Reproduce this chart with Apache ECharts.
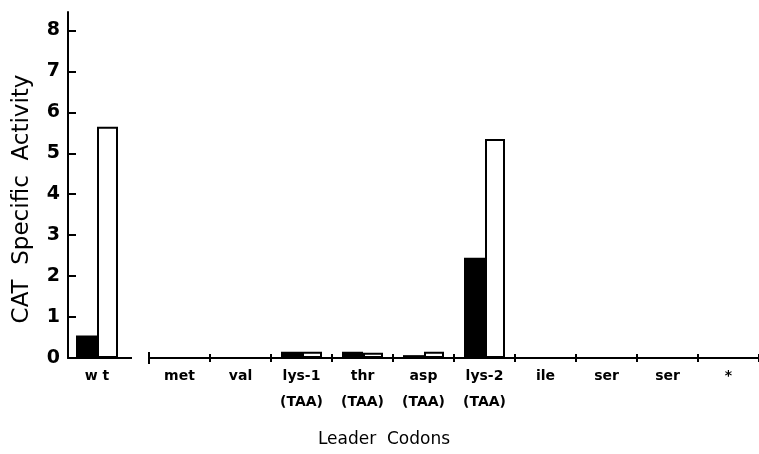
<!DOCTYPE html>
<html><head><meta charset="utf-8">
<script src="https://cdn.jsdelivr.net/npm/echarts@6/dist/echarts.min.js"></script>
<style>html,body{margin:0;padding:0;background:#fff}#c{width:759px;height:454px}</style>
</head><body><div id="c"></div>
<script>
const wtCategory = ['w t'];
const wtBlack = [0.55];
const wtWhite = [5.65];
const categories = ['met','val','lys-1\n(TAA)','thr\n(TAA)','asp\n(TAA)','lys-2\n(TAA)','ile','ser','ser','*'];
const blackValues = [0, 0, 0.15, 0.15, 0.07, 2.45, 0, 0, 0, 0];
const whiteValues = [0, 0, 0.15, 0.13, 0.15, 5.35, 0, 0, 0, 0];
const yTicks = [0,1,2,3,4,5,6,7,8];

const font = 'DejaVu Sans';
const chart = echarts.init(document.getElementById('c'));
const yMax = 8.45;
chart.setOption({
  animation: false,
  backgroundColor: '#fff',
  grid: [
    {left: 68, width: 58, top: 12, bottom: 96},
    {left: 149, width: 613, top: 12, bottom: 96}
  ],
  xAxis: [
    {gridIndex: 0, type: 'category', data: wtCategory, position: 'bottom',
     axisLine: {lineStyle: {color: '#000', width: 2}},
     axisTick: {show: false},
     axisLabel: {color: '#000', fontFamily: font, fontWeight: 'bold', fontSize: 14, margin: 5, lineHeight: 26, verticalAlign: 'top'}},
    {gridIndex: 1, type: 'category', data: categories, position: 'bottom',
     axisLine: {lineStyle: {color: '#000', width: 2}},
     axisTick: {show: true, length: 4, lineStyle: {color: '#000', width: 2}},
     axisLabel: {color: '#000', fontFamily: font, fontWeight: 'bold', fontSize: 14, margin: 5, lineHeight: 26, verticalAlign: 'top'}},
    {gridIndex: 1, type: 'category', data: categories, position: 'bottom',
     axisLine: {show: false},
     axisTick: {show: true, inside: true, length: 4, lineStyle: {color: '#000', width: 2}},
     axisLabel: {show: false}}
  ],
  yAxis: [
    {gridIndex: 0, type: 'value', min: 0, max: yMax,
     axisLine: {show: true, lineStyle: {color: '#000', width: 2}},
     axisTick: {show: true, inside: true, length: 8, customValues: yTicks, lineStyle: {color: '#000', width: 2}},
     axisLabel: {color: '#000', fontFamily: font, fontWeight: 'bold', fontSize: 19, margin: 8, customValues: yTicks},
     splitLine: {show: false}},
    {gridIndex: 1, type: 'value', min: 0, max: yMax, show: false, splitLine: {show: false}}
  ],
  graphic: [
    {type: 'text', x: 22, y: 199, rotation: Math.PI / 2,
     style: {text: 'CAT  Specific  Activity', fill: '#000', font: '23px "DejaVu Sans"', align: 'center', verticalAlign: 'middle'}},
    {type: 'text', x: 384, y: 440,
     style: {text: 'Leader  Codons', fill: '#000', font: '17px "DejaVu Sans"', align: 'center', verticalAlign: 'middle'}},
    {type: 'line', shape: {x1: 125, y1: 358, x2: 132, y2: 358}, style: {stroke: '#000', lineWidth: 2}},
    {type: 'line', shape: {x1: 149, y1: 352, x2: 149, y2: 364}, style: {stroke: '#000', lineWidth: 2}}
  ],
  series: [
    {type: 'bar', xAxisIndex: 0, yAxisIndex: 0, data: wtBlack, barWidth: 21, barGap: '0%',
     itemStyle: {color: '#000', borderColor: '#000', borderWidth: 2}},
    {type: 'bar', xAxisIndex: 0, yAxisIndex: 0, data: wtWhite, barWidth: 21, barGap: '0%',
     itemStyle: {color: '#fff', borderColor: '#000', borderWidth: 2}},
    {type: 'bar', xAxisIndex: 1, yAxisIndex: 1, data: blackValues, barWidth: 21, barGap: '0%',
     itemStyle: {color: '#000', borderColor: '#000', borderWidth: 2}},
    {type: 'bar', xAxisIndex: 1, yAxisIndex: 1, data: whiteValues, barWidth: 20, barGap: '0%',
     itemStyle: {color: '#fff', borderColor: '#000', borderWidth: 2}}
  ]
});
</script></body></html>
